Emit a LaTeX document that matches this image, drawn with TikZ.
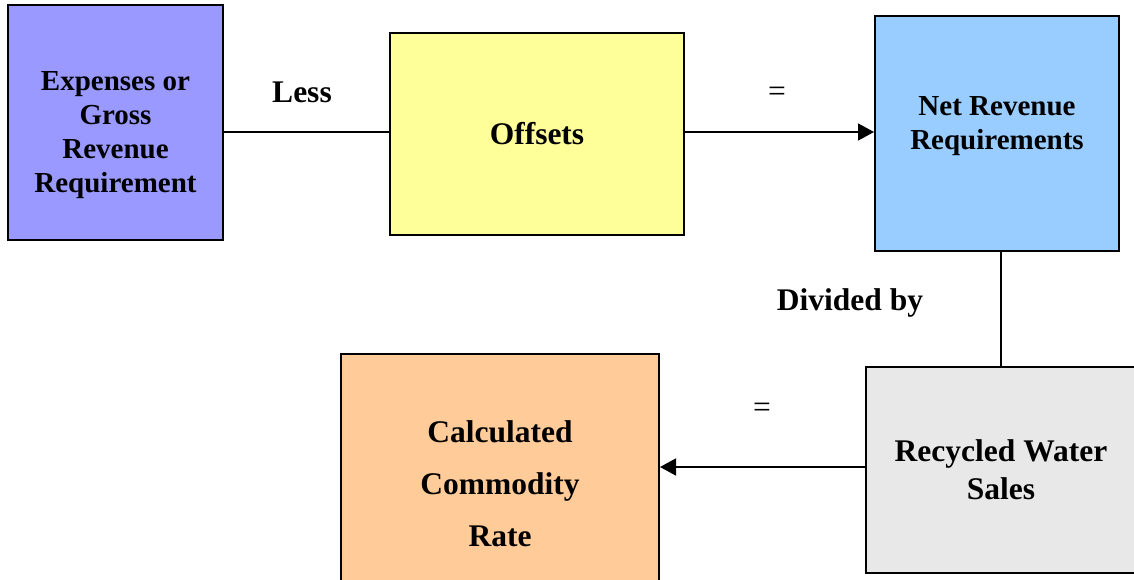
\documentclass[tikz,border=0pt]{standalone}
\usepackage{fontspec}
\setmainfont{Liberation Serif}
\usepackage{xcolor}
\usetikzlibrary{arrows.meta,positioning}
\definecolor{expblue}{HTML}{9999FF}
\definecolor{offyellow}{HTML}{FFFF99}
\definecolor{netblue}{HTML}{99CCFF}
\definecolor{rateorange}{HTML}{FFCC99}
\definecolor{salesgray}{HTML}{E8E8E8}

\begin{document}
\begin{tikzpicture}[x=0.5pt, y=-0.5pt]
  \tikzstyle{box}=[draw, line width=1pt, align=center, inner sep=0pt, font=\bfseries]
  \tikzstyle{link}=[line width=0.8pt]
  \tikzstyle{word}=[inner sep=0pt, font=\fontsize{15.75}{18}\selectfont]
  \useasboundingbox (0,0) rectangle (1134,579);
  \node[box, fill=expblue, minimum width=107.5pt, minimum height=117.5pt,
        font=\bfseries\fontsize{14.5}{17}\selectfont] (exp) at (115.5,122.5)
        {\rule{0pt}{22pt}Expenses or\\Gross\\Revenue\\Requirement};
  \node[box, fill=offyellow, minimum width=147pt, minimum height=101pt,
        font=\bfseries\fontsize{15.75}{18}\selectfont] (off) at (537,134) {Offsets};
  \node[box, fill=netblue, minimum width=122pt, minimum height=117.5pt,
        font=\bfseries\fontsize{14.5}{17}\selectfont] (net) at (997,133.5)
        {Net Revenue\\Requirements\rule[-11pt]{0pt}{0pt}};
  \node[box, fill=salesgray, minimum width=135pt, minimum height=103pt,
        font=\bfseries\fontsize{15.75}{19}\selectfont] (rws) at (1001,470)
        {Recycled Water\\Sales};
  \node[box, fill=rateorange, minimum width=159pt, minimum height=130pt,
        font=\bfseries\fontsize{15.75}{26}\selectfont] (rate) at (500,484)
        {Calculated\\Commodity\\Rate};
  \draw[link] (exp.east |- 0,132) -- (off.west |- 0,132);
  \draw[link, -{Triangle[length=8pt, width=8.5pt]}] (off.east |- 0,132) -- (net.west |- 0,132);
  \draw[link] (rws.north |- net.south) -- (rws.north);
  \draw[link, -{Triangle[length=8pt, width=8.5pt]}] (rws.west |- 0,467) -- (rate.east |- 0,467);
  \node[word, font=\bfseries\fontsize{15.75}{18}\selectfont] (less) at (302,92) {Less};
  \node[word] (eq1) at (777,94) {=};
  \node[word, font=\bfseries\fontsize{15.75}{18}\selectfont] (div) at (850,303) {Divided by};
  \node[word] (eq2) at (762,410) {=};
\end{tikzpicture}
\end{document}
